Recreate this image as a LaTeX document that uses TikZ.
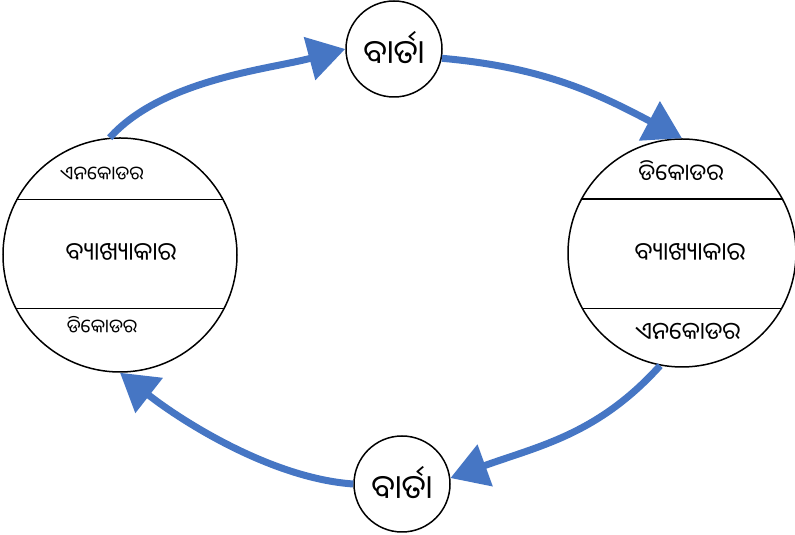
\documentclass[tikz,border=0pt]{standalone}
\usepackage{fontspec}
\newfontfamily\odia[Script=Oriya]{Noto Sans Oriya UI}
\usetikzlibrary{arrows.meta}
\definecolor{msgblue}{RGB}{70,118,196}
\tikzset{
  party/.style={circle,draw,line width=1.5pt,inner sep=0pt},
  word/.style={font=\odia\fontsize{#1}{#1}\selectfont,inner sep=0pt},
  flow/.style={draw=msgblue,line width=7pt,-{Triangle[length=37pt,width=43pt]}}
}
\begin{document}
\begin{tikzpicture}[x=1pt,y=1pt]
      \useasboundingbox (0,0) rectangle (795,535);
      \draw
        (120,280) node[party,minimum size=234pt] (L){}
        (682,282) node[party,minimum size=228pt] (R){}
        (394,486) node[party,minimum size=96pt,word=33] (M1){ବାର୍ତା}
        (402,51) node[party,minimum size=96pt,word=33] (M2){ବାର୍ତା};
      % layers of the two parties
      \begin{scope}[line width=1.5pt]
        \draw (L.152) to (L.28);
        \draw (L.207) to (L.-27);
        \draw (R.152) to (R.28);
        \draw (R.209) to (R.-29);
      \end{scope}
      \draw
        (102,361) node[word=19] (Lenc){ଏନକୋଡର}
        (121,282) node[word=25] (Lint){ବ୍ୟାଖ୍ୟାକାର}
        (102,210) node[word=19] (Ldec){ଡିକୋଡର}
        (681,363) node[word=23] (Rdec){ଡିକୋଡର}
        (690,282) node[word=25] (Rint){ବ୍ୟାଖ୍ୟାକାର}
        (688,203) node[word=24] (Renc){ଏନକୋଡର};
      \begin{scope}[flow]
        \draw (L.95) to[out=48,in=195,looseness=0.8] (M1.west);
        \draw (M1.-11) to[out=-5,in=152] (R.north);
        \draw (R.-101) to[out=228,in=20] (M2.7);
        \draw (M2.west) to[out=176,in=-38,looseness=0.8] (L.south);
      \end{scope}
    \end{tikzpicture}
\end{document}
